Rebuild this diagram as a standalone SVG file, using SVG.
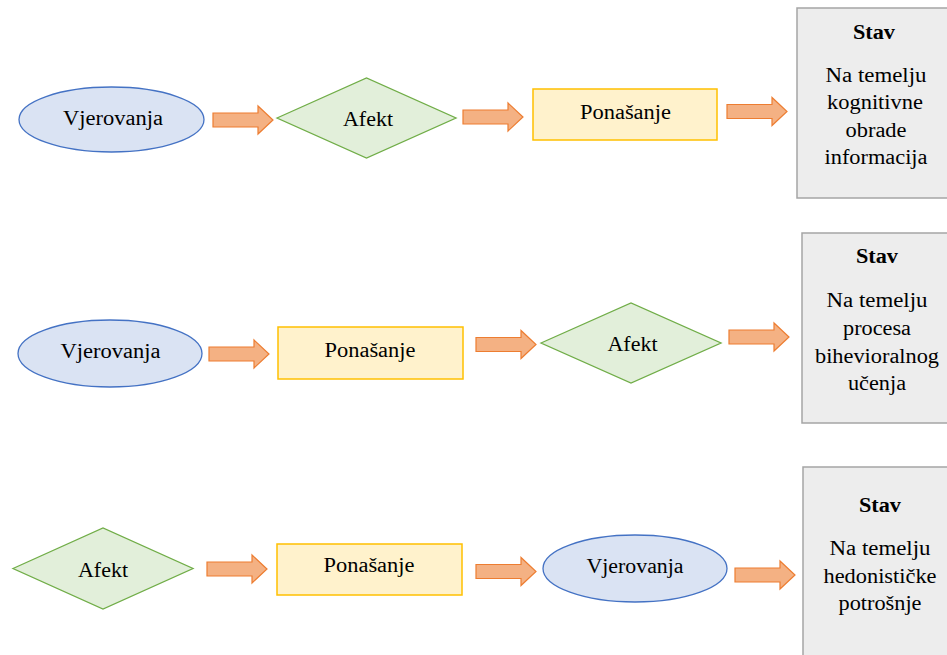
<svg xmlns="http://www.w3.org/2000/svg" width="947" height="655" viewBox="0 0 947 655">
<defs>
<path id="arr" d="M0,-7 L45,-7 L45,-14 L60,0 L45,14 L45,7 L0,7 Z"/>
<style>
.ell{fill:#dae3f3;stroke:#4472c4;stroke-width:1.3}
.dia{fill:#e2efda;stroke:#70ad47;stroke-width:1.3}
.rec{fill:#fff2cc;stroke:#ffc000;stroke-width:1.5}
.stav{fill:#ededed;stroke:#a5a5a5;stroke-width:1.5}
.arw{fill:#f4b183;stroke:#ed7d31;stroke-width:1.2}
</style>
</defs>
<rect x="0" y="0" width="947" height="655" fill="#ffffff"/>

<g id="connectors">
<use href="#arr" class="arw" transform="translate(213,120)"/>
<use href="#arr" class="arw" transform="translate(463,117)"/>
<use href="#arr" class="arw" transform="translate(727,111.5)"/>
<use href="#arr" class="arw" transform="translate(209,354)"/>
<use href="#arr" class="arw" transform="translate(476,344.5)"/>
<use href="#arr" class="arw" transform="translate(729,337)"/>
<use href="#arr" class="arw" transform="translate(207,569)"/>
<use href="#arr" class="arw" transform="translate(476,571.5)"/>
<use href="#arr" class="arw" transform="translate(735,575)"/>
</g>

<g id="r1-vjerovanja">
<ellipse class="ell" cx="111.5" cy="119.5" rx="92.5" ry="32.5"/>
<text x="63" y="125" font-family="Liberation Serif" font-size="20" textLength="100" lengthAdjust="spacingAndGlyphs">Vjerovanja</text>
</g>
<g id="r1-afekt">
<polygon class="dia" points="277,118 366.5,78 456,118 366.5,158"/>
<text x="343" y="126" font-family="Liberation Serif" font-size="20" textLength="50" lengthAdjust="spacingAndGlyphs">Afekt</text>
</g>
<g id="r1-ponasanje">
<rect class="rec" x="533" y="89" width="184" height="51"/>
<text x="580" y="119" font-family="Liberation Serif" font-size="20" textLength="91" lengthAdjust="spacingAndGlyphs">Pona&#353;anje</text>
</g>
<g id="r1-stav">
<rect class="stav" x="797" y="8" width="152" height="190"/>
<text x="853" y="39" font-family="Liberation Serif" font-size="20" font-weight="bold" textLength="42" lengthAdjust="spacingAndGlyphs">Stav</text>
<text x="825.5" y="82" font-family="Liberation Serif" font-size="20" textLength="101" lengthAdjust="spacingAndGlyphs">Na temelju</text>
<text x="827" y="109" font-family="Liberation Serif" font-size="20" textLength="96" lengthAdjust="spacingAndGlyphs">kognitivne</text>
<text x="845.5" y="137" font-family="Liberation Serif" font-size="20" textLength="61" lengthAdjust="spacingAndGlyphs">obrade</text>
<text x="824.5" y="164" font-family="Liberation Serif" font-size="20" textLength="103" lengthAdjust="spacingAndGlyphs">informacija</text>
</g>

<g id="r2-vjerovanja">
<ellipse class="ell" cx="110" cy="353.5" rx="92" ry="33.5"/>
<text x="60.5" y="358" font-family="Liberation Serif" font-size="20" textLength="100" lengthAdjust="spacingAndGlyphs">Vjerovanja</text>
</g>
<g id="r2-ponasanje">
<rect class="rec" x="278" y="327" width="185" height="52"/>
<text x="324.5" y="357" font-family="Liberation Serif" font-size="20" textLength="91" lengthAdjust="spacingAndGlyphs">Pona&#353;anje</text>
</g>
<g id="r2-afekt">
<polygon class="dia" points="541,343 631,303 721,343 631,383"/>
<text x="607.5" y="351" font-family="Liberation Serif" font-size="20" textLength="50" lengthAdjust="spacingAndGlyphs">Afekt</text>
</g>
<g id="r2-stav">
<rect class="stav" x="802" y="233" width="150" height="190"/>
<text x="856" y="263" font-family="Liberation Serif" font-size="20" font-weight="bold" textLength="42" lengthAdjust="spacingAndGlyphs">Stav</text>
<text x="826.5" y="307" font-family="Liberation Serif" font-size="20" textLength="101" lengthAdjust="spacingAndGlyphs">Na temelju</text>
<text x="843" y="335" font-family="Liberation Serif" font-size="20" textLength="68" lengthAdjust="spacingAndGlyphs">procesa</text>
<text x="815" y="363" font-family="Liberation Serif" font-size="20" textLength="124" lengthAdjust="spacingAndGlyphs">bihevioralnog</text>
<text x="848" y="390" font-family="Liberation Serif" font-size="20" textLength="58" lengthAdjust="spacingAndGlyphs">u&#269;enja</text>
</g>

<g id="r3-afekt">
<polygon class="dia" points="13,568.5 103,528 193,568.5 103,609"/>
<text x="78" y="577" font-family="Liberation Serif" font-size="20" textLength="50" lengthAdjust="spacingAndGlyphs">Afekt</text>
</g>
<g id="r3-ponasanje">
<rect class="rec" x="277" y="544" width="185" height="51"/>
<text x="323.5" y="572" font-family="Liberation Serif" font-size="20" textLength="91" lengthAdjust="spacingAndGlyphs">Pona&#353;anje</text>
</g>
<g id="r3-vjerovanja">
<ellipse class="ell" cx="635" cy="568.5" rx="92" ry="33.5"/>
<text x="586.5" y="573" font-family="Liberation Serif" font-size="20" textLength="97" lengthAdjust="spacingAndGlyphs">Vjerovanja</text>
</g>
<g id="r3-stav">
<rect class="stav" x="803" y="467" width="150" height="200"/>
<text x="859" y="512" font-family="Liberation Serif" font-size="20" font-weight="bold" textLength="42" lengthAdjust="spacingAndGlyphs">Stav</text>
<text x="829.5" y="555" font-family="Liberation Serif" font-size="20" textLength="101" lengthAdjust="spacingAndGlyphs">Na temelju</text>
<text x="823.5" y="583" font-family="Liberation Serif" font-size="20" textLength="113" lengthAdjust="spacingAndGlyphs">hedonisti&#269;ke</text>
<text x="838.5" y="610" font-family="Liberation Serif" font-size="20" textLength="83" lengthAdjust="spacingAndGlyphs">potro&#353;nje</text>
</g>
</svg>
